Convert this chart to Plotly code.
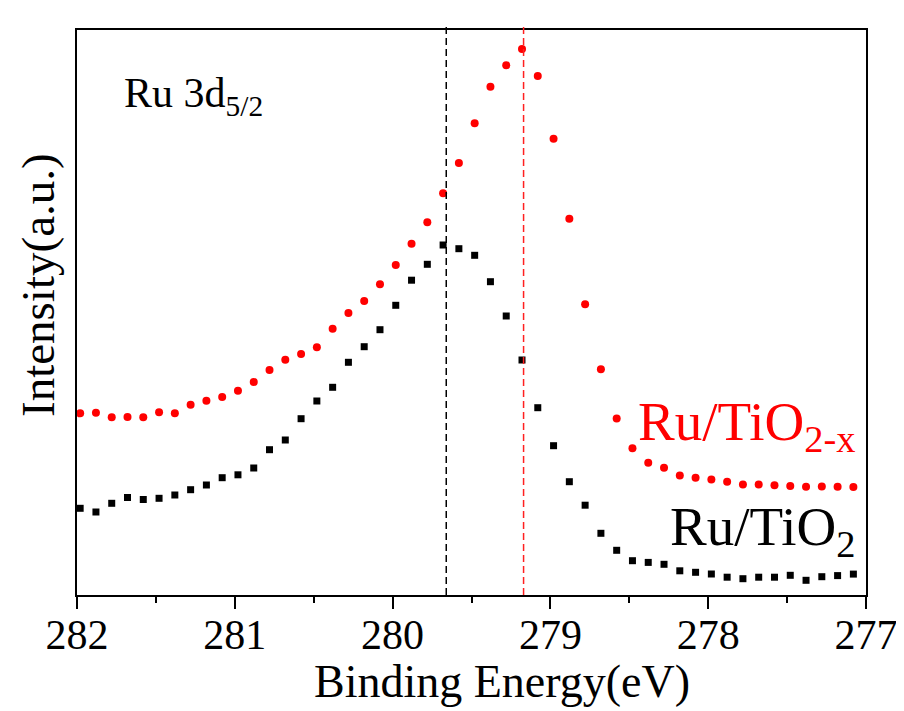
import plotly.graph_objects as go

# Binding energy (eV) of each measured point
energy = [281.98, 281.88, 281.78, 281.68, 281.58, 281.48, 281.38, 281.28, 281.18, 281.08,
          280.98, 280.88, 280.78, 280.68, 280.58, 280.48, 280.38, 280.28, 280.18, 280.08,
          279.98, 279.88, 279.78, 279.68, 279.58, 279.48, 279.38, 279.28, 279.18, 279.08,
          278.98, 278.88, 278.78, 278.68, 278.58, 278.48, 278.38, 278.28, 278.18, 278.08,
          277.98, 277.88, 277.78, 277.68, 277.58, 277.48, 277.38, 277.28, 277.18, 277.08]

# Intensity (a.u.) of Ru/TiO2-x (red circles)
ru_tio2x = [181.7, 182.3, 177.7, 178.0, 177.7, 182.7, 181.7, 190.3, 194.3, 198.0,
            204.3, 213.0, 225.0, 235.3, 241.0, 247.7, 266.3, 282.0, 294.0, 310.7,
            330.0, 351.3, 372.7, 401.7, 432.0, 471.7, 508.3, 529.7, 546.0, 519.0,
            456.3, 376.3, 290.7, 225.7, 176.5, 146.7, 132.3, 127.3, 119.5, 117.2,
            115.5, 113.2, 110.5, 110.5, 109.8, 109.0, 108.3, 108.5, 108.3, 108.0]

# Intensity (a.u.) of Ru/TiO2 (black squares)
ru_tio2 = [86.7, 83.0, 91.7, 97.5, 95.5, 96.7, 100.0, 105.3, 110.0, 117.3,
           120.2, 127.0, 145.3, 155.0, 176.3, 194.0, 207.7, 232.7, 248.3, 265.3,
           289.7, 314.8, 330.7, 350.0, 346.3, 339.7, 313.3, 279.0, 235.0, 187.3,
           149.3, 113.3, 89.8, 61.7, 44.7, 34.3, 32.6, 30.7, 24.2, 22.7,
           21.0, 17.8, 16.3, 17.8, 17.8, 19.7, 14.7, 18.3, 19.4, 20.9]

# Peak positions marked by dashed lines
peak_tio2 = 279.66
peak_tio2x = 279.17

x_ticks = [282, 281, 280, 279, 278, 277]
x_minor = [281.5, 280.5, 279.5, 278.5, 277.5]

FONT = "Liberation Serif"

fig = go.Figure()
fig.add_trace(go.Scatter(x=energy, y=ru_tio2x, mode="markers", name="Ru/TiO2-x",
                         marker=dict(symbol="circle", size=8, color="#ff0000")))
fig.add_trace(go.Scatter(x=energy, y=ru_tio2, mode="markers", name="Ru/TiO2",
                         marker=dict(symbol="square", size=7, color="#000000")))

fig.add_shape(type="line", xref="x", yref="paper", x0=peak_tio2, x1=peak_tio2, y0=0, y1=1.007,
              line=dict(color="black", width=1.5, dash="7px,4px"))
fig.add_shape(type="line", xref="x", yref="paper", x0=peak_tio2x, x1=peak_tio2x, y0=0, y1=1.007,
              line=dict(color="#ff2020", width=1.5, dash="7px,4px"))

# plot-area geometry in screen pixels (page body has an 8px margin)
OFF = 8
L, R, T, B = 77, 866, 30, 595
W, H = R - L, B - T
def px(xp):
    return (xp - L) / W
def py(yp):
    return (B - yp) / H

fig.add_annotation(text="Ru 3d<sub>5/2</sub>", xref="paper", yref="paper",
                   x=px(122), y=py(96), xanchor="left", yanchor="middle", showarrow=False,
                   font=dict(family=FONT, size=42, color="black"))
fig.add_annotation(text="Ru/TiO<sub>2-x</sub>", xref="paper", yref="paper",
                   x=px(636), y=py(425), xanchor="left", yanchor="middle", showarrow=False,
                   font=dict(family=FONT, size=55, color="#ff0000"))
fig.add_annotation(text="Ru/TiO<sub>2</sub>", xref="paper", yref="paper",
                   x=px(668), y=py(530), xanchor="left", yanchor="middle", showarrow=False,
                   font=dict(family=FONT, size=55, color="black"))
fig.add_annotation(text="Intensity(a.u.)", xref="paper", yref="paper",
                   x=px(38), y=py(285), xanchor="center", yanchor="middle", showarrow=False,
                   textangle=-90, font=dict(family=FONT, size=47, color="black"))
fig.add_annotation(text="Binding Energy(eV)", xref="paper", yref="paper",
                   x=px(502), y=py(681), xanchor="center", yanchor="middle", showarrow=False,
                   font=dict(family=FONT, size=46, color="black"))

fig.update_layout(
    width=904, height=711,
    margin=dict(l=L - OFF, r=904 + OFF - R, t=T - OFF, b=711 + OFF - B),
    paper_bgcolor="white", plot_bgcolor="white",
    showlegend=False,
    font=dict(family=FONT, color="black"),
)
fig.update_xaxes(range=[282, 277], tickmode="array", tickvals=x_ticks,
                 ticktext=[str(v) for v in x_ticks],
                 ticks="outside", ticklen=12, tickwidth=1.5, tickcolor="black",
                 ticklabelstandoff=-10,
                 minor=dict(tickmode="array", tickvals=x_minor,
                            ticks="outside", ticklen=6, tickwidth=1.5, tickcolor="black"),
                 showline=True, linewidth=2, linecolor="black", mirror=True,
                 showgrid=False, zeroline=False,
                 tickfont=dict(family=FONT, size=42, color="black"))
fig.update_yaxes(range=[0, 565], showticklabels=False, ticks="",
                 showline=True, linewidth=2, linecolor="black", mirror=True,
                 showgrid=False, zeroline=False)

fig.write_html("out.html")
